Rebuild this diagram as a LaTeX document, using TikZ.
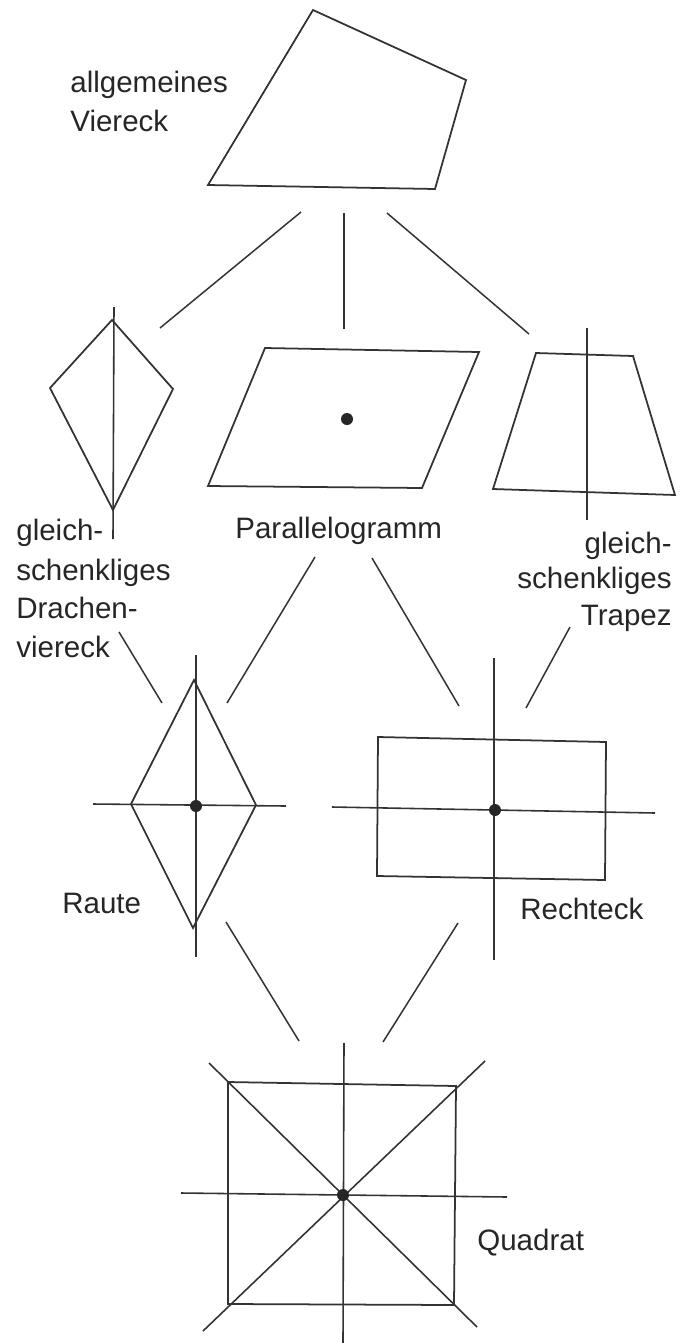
\documentclass[tikz,border=0pt]{standalone}
\usepackage{fontspec}
\setmainfont{Liberation Sans}
\begin{document}
\begin{tikzpicture}[x=0.02cm,y=-0.02cm,
  fig/.style={draw=black!80, line width=1pt, line join=miter},
  conn/.style={draw=black!80, line width=0.85pt},
  symax/.style={draw=black!80, line width=0.9pt},
  lbl/.style={font=\fontsize{16.8}{21.6}\selectfont, inner sep=0pt, text=black!85},
  ctr/.style={circle, fill=black!85, inner sep=0pt, minimum size=0.24cm}]
\useasboundingbox[fill=white] (0,0) rectangle (680,1343);

% allgemeines Viereck
\draw[fig] (313,10) -- (466,80) -- (435,189) -- (208,185) -- cycle;
\node[lbl, anchor=base west] (av1) at (70,92) {allgemeines};
\node[lbl, anchor=base west] (av2) at (70,131) {Viereck};

% connectors from the top
\coordinate (c1a) at (301,212); \coordinate (c1b) at (160,328);
\coordinate (c2a) at (344,213); \coordinate (c2b) at (344,329);
\coordinate (c3a) at (387,213); \coordinate (c3b) at (529,334);
\draw[conn] (c1a) -- (c1b);
\draw[conn] (c2a) -- (c2b);
\draw[conn] (c3a) -- (c3b);

% Drachenviereck
\draw[fig] (112,320) -- (173,389) -- (113,510) -- (50,388) -- cycle;
\coordinate (kt) at (114,307); \coordinate (kb) at (113,539);
\draw[symax] (kt) -- (kb);
\node[lbl, anchor=base west] (dv1) at (16,540) {gleich-};
\node[lbl, anchor=base west] (dv2) at (16,580) {schenkliges};
\node[lbl, anchor=base west] (dv3) at (16,618) {Drachen-};
\node[lbl, anchor=base west] (dv4) at (16,657) {viereck};

% Parallelogramm
\draw[fig] (265,348) -- (479,352) -- (422,488) -- (208,486) -- cycle;
\node[ctr] (pc) at (347,419) {};
\node[lbl, anchor=base west] (pl) at (235,538) {Parallelogramm};

% gleichschenkliges Trapez
\draw[fig] (536,353) -- (633,356) -- (675,495) -- (493,489) -- cycle;
\coordinate (tt) at (587,328); \coordinate (tb) at (587,520);
\draw[symax] (tt) -- (tb);
\node[lbl, anchor=base east] (tr1) at (672,553) {gleich-};
\node[lbl, anchor=base east] (tr2) at (672,588) {schenkliges};
\node[lbl, anchor=base east] (tr3) at (672,625) {Trapez};

% middle connectors
\coordinate (m1a) at (119,632); \coordinate (m1b) at (162,703);
\coordinate (m2a) at (315,557); \coordinate (m2b) at (227,703);
\coordinate (m3a) at (372,558); \coordinate (m3b) at (459,706);
\coordinate (m4a) at (570,627); \coordinate (m4b) at (526,708);
\draw[conn] (m1a) -- (m1b);
\draw[conn] (m2a) -- (m2b);
\draw[conn] (m3a) -- (m3b);
\draw[conn] (m4a) -- (m4b);

% Raute
\draw[fig] (194,680) -- (256,805) -- (193,928) -- (131,804) -- cycle;
\coordinate (rvt) at (196,655); \coordinate (rvb) at (196,957);
\coordinate (rhl) at (93,804); \coordinate (rhr) at (286,806);
\draw[symax] (rvt) -- (rvb);
\draw[symax] (rhl) -- (rhr);
\node[ctr] (rc) at (196,806) {};
\node[lbl, anchor=base west] (ra) at (62,913) {Raute};

% Rechteck
\draw[fig] (378,737) -- (606,742) -- (605,880) -- (377,876) -- cycle;
\coordinate (evt) at (494,658); \coordinate (evb) at (494,960);
\coordinate (ehl) at (332,807); \coordinate (ehr) at (655,813);
\draw[symax] (evt) -- (evb);
\draw[symax] (ehl) -- (ehr);
\node[ctr] (ec) at (495,810) {};
\node[lbl, anchor=base west] (re) at (520,919) {Rechteck};

% lower connectors
\coordinate (l1a) at (226,922); \coordinate (l1b) at (299,1041);
\coordinate (l2a) at (458,923); \coordinate (l2b) at (383,1042);
\draw[conn] (l1a) -- (l1b);
\draw[conn] (l2a) -- (l2b);

% Quadrat
\draw[fig] (228,1082) -- (456,1086) -- (454,1305) -- (228,1304) -- cycle;
\coordinate (qvt) at (344,1043); \coordinate (qvb) at (343,1343);
\coordinate (qhl) at (181,1193); \coordinate (qhr) at (507,1197);
\coordinate (qd1a) at (209,1063); \coordinate (qd1b) at (477,1327);
\coordinate (qd2a) at (485,1061); \coordinate (qd2b) at (203,1331);
\draw[symax] (qvt) -- (qvb);
\draw[symax] (qhl) -- (qhr);
\draw[symax] (qd1a) -- (qd1b);
\draw[symax] (qd2a) -- (qd2b);
\node[ctr] (qc) at (343,1195) {};
\node[lbl, anchor=base west] (qu) at (477,1250) {Quadrat};
\end{tikzpicture}
\end{document}
